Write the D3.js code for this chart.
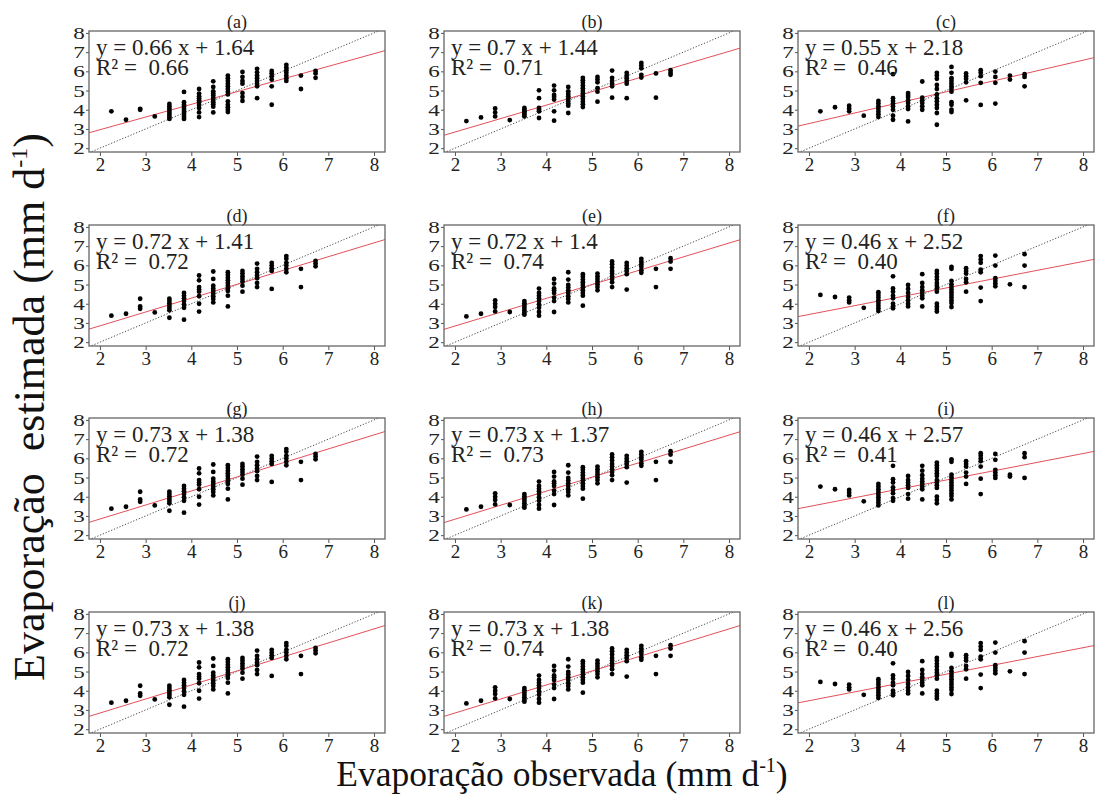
<!DOCTYPE html>
<html>
<head>
<meta charset="utf-8">
<script src="https://cdn.jsdelivr.net/npm/d3@7"></script>
<style>
  body { margin: 0; background: #fff; }
  svg text { font-family: "Liberation Serif", "Times New Roman", Times, "DejaVu Serif", serif; }
</style>
</head>
<body>
<div id="chart"></div>
<script>
// observed evaporation classes (x), shared by all panels
const obsX = [2.25, 2.57, 2.88, 3.2, 3.52, 3.84, 4.17, 4.48, 4.8, 5.12, 5.44, 5.76, 6.08, 6.4, 6.72];

// estimated values per observed class, one array per panel
const estA = [[3.92],[3.48],[4.05,4.0],[3.65],[4.3,4.18,4.06,3.95,3.83,3.72,3.62,3.52],
  [4.93,4.39,4.26,4.16,4.04,3.93,3.83,3.72,3.62,3.52],[5.08,4.84,4.7,4.6,4.49,4.39,4.25,4.09,3.86,3.62],
  [5.48,5.19,4.96,4.84,4.74,4.61,4.51,4.39,4.28,4.16,3.86],[5.78,5.64,5.5,5.36,5.22,5.08,4.94,4.8,4.44,4.26,4.13,4.0,3.88],
  [5.97,5.71,5.5,5.36,4.87,4.67,4.46],[6.13,5.95,5.78,5.64,5.5,5.36,5.22,4.6],[6.02,5.89,5.75,5.57,5.22,4.26],
  [6.34,6.2,6.06,5.92,5.78,5.64,5.5],[5.78,5.08],[6.02,5.89,5.66]];
const estB = [[3.41],[3.6],[4.07,3.86,3.65],[3.46],[4.09,4.0,3.92,3.83,3.74,3.65],[5.01,4.6,4.09,4.0,3.92,3.57],
  [5.26,5.01,4.77,4.67,4.53,3.92,3.43],[5.19,4.96,4.82,4.7,4.58,4.46,4.33,4.21,3.83],
  [5.66,5.54,5.4,5.26,5.12,4.98,4.84,4.7,4.56,4.42,4.28,4.14],[5.71,5.57,5.43,5.12,4.94,4.42],
  [6.04,5.66,5.5,5.36,5.22,4.63],[5.92,5.78,5.64,5.5,5.36,4.6],[6.44,6.3,6.16,5.82,5.68],[5.89,4.63],[6.06,5.92,5.82]];
const estC = [[3.92],[4.13],[4.21,4.07,3.92],[3.69],[4.46,4.32,4.18,4.04,3.9,3.76,3.62],
  [5.85,4.6,4.46,4.32,4.18,4.0,3.69,3.48],[4.87,4.77,4.67,4.49,4.35,4.18,4.04,3.39],[5.47,4.63,4.49,4.35,4.18,4.0],
  [5.92,5.78,5.61,5.29,5.08,4.8,4.6,4.44,4.26,4.09,3.83,3.22],[6.23,5.92,5.64,5.5,5.36,5.22,5.08,4.94,4.39,4.26,4.0,3.88],
  [5.89,5.75,5.61,5.43,4.49],[6.06,5.92,5.75,5.4,4.25],[5.99,5.71,5.4,4.32],[5.78,5.57],[5.85,5.71,5.22]];
const estD = [[3.38],[3.48],[4.26,3.86,3.74],[3.55],[4.26,4.14,4.02,3.9,3.78,3.66,3.27],[4.56,4.42,4.28,4.14,3.97,3.79,3.17],
  [5.47,5.22,4.87,4.74,4.63,4.39,4.0,3.59],[5.68,5.29,4.94,4.8,4.67,4.53,4.39,4.25,4.07],
  [5.64,5.5,5.36,5.22,5.08,4.94,4.8,4.67,4.42,3.86],[5.71,5.57,5.43,5.29,5.15,4.94,4.63],
  [6.09,5.82,5.64,5.47,5.33,5.08,4.87],[6.13,5.99,5.85,5.71,4.77],[6.48,6.34,6.13,5.99,5.82,5.64],[5.82,4.87],[6.23,6.09,5.95]];
const estE = [[3.34],[3.48],[4.18,4.0,3.83,3.6],[3.57],[4.14,4.02,3.9,3.78,3.66,3.53,3.43],
  [4.79,4.56,4.42,4.28,4.14,3.97,3.79,3.57,3.38],[5.29,5.05,4.8,4.7,4.56,4.32,4.14,3.57],
  [5.64,5.26,4.98,4.84,4.7,4.56,4.39,4.25,4.07],[5.54,5.4,5.26,5.12,4.98,4.84,4.7,4.56,4.42,3.9],
  [5.57,5.43,5.29,5.15,5.01,4.87,4.7],[6.2,6.06,5.89,5.71,5.57,5.43,5.29,5.12,4.87],[6.13,5.99,5.85,5.71,5.54,4.74],
  [6.34,6.2,6.06,5.92,5.75,5.61],[5.82,4.87],[6.37,6.2,5.82]];
const estF = [[4.46],[4.35],[4.32,4.18,4.07],[3.79],[4.6,4.46,4.32,4.18,4.04,3.9,3.76,3.62],
  [5.43,4.8,4.63,4.42,4.28,4.0,3.86,3.76],[4.98,4.77,4.56,4.35,4.18,4.0,3.86],[5.54,5.08,4.87,4.7,4.56,4.42,4.28,3.86],
  [5.71,5.57,5.4,5.26,5.08,4.94,4.8,4.63,4.0,3.86,3.72,3.59],[5.92,5.82,5.19,5.01,4.87,4.74,4.6,4.46,4.32,4.18,4.04,3.83],
  [5.85,5.71,5.57,5.29,5.12,4.63],[6.48,6.3,6.13,5.78,5.64,4.84,4.14],[6.51,5.99,5.33,5.19,5.05,4.91],[5.01],[6.58,5.99,4.87]];
const estG = estD;
const estH = estE;
const estI = [[4.53],[4.39],[4.35,4.21,4.07],[3.76],[4.67,4.53,4.39,4.25,4.11,3.97,3.83,3.69,3.55],
  [5.61,4.91,4.74,4.49,4.35,4.18,3.93,3.79],[5.08,4.87,4.74,4.6,4.46,4.14,3.9],[5.61,5.36,5.12,4.94,4.8,4.67,4.53,4.39,3.86],
  [5.78,5.64,5.5,5.36,5.22,5.08,4.87,4.74,4.6,4.46,4.0,3.83,3.66],[5.95,5.82,5.15,5.01,4.87,4.74,4.6,4.46,4.32,4.18,4.04,3.86],
  [5.85,5.71,5.57,5.26,5.05,4.67],[6.27,6.13,5.99,5.85,5.57,4.94,4.14],[6.23,5.92,5.4,5.26,5.12,4.98],[5.15,5.05],[6.27,6.06,4.98]];
const estJ = estD;
const estK = estE;
const estL = estF;

const panelLabels = ["(a)","(b)","(c)","(d)","(e)","(f)","(g)","(h)","(i)","(j)","(k)","(l)"];
const slopes = [0.66, 0.7, 0.55, 0.72, 0.72, 0.46, 0.73, 0.73, 0.46, 0.73, 0.73, 0.46];
const intercepts = [1.64, 1.44, 2.18, 1.41, 1.4, 2.52, 1.38, 1.37, 2.57, 1.38, 1.38, 2.56];
const r2Values = [0.66, 0.71, 0.46, 0.72, 0.74, 0.40, 0.72, 0.73, 0.41, 0.72, 0.74, 0.40];
const tickValues = [2, 3, 4, 5, 6, 7, 8];

const estimates = [estA, estB, estC, estD, estE, estF, estG, estH, estI, estJ, estK, estL];

const serif = "'Liberation Serif', 'Times New Roman', Times, 'DejaVu Serif', serif";
const width = 1095, height = 801;
const colX = [89, 444, 798], rowY = [31, 225, 418, 612];
const pw = 296, ph = 121;

const svg = d3.select("#chart").append("svg")
  .attr("width", width).attr("height", height)
  .style("font-family", serif);

const x = d3.scaleLinear().domain([1.76, 8.24]).range([0, pw]);
const y = d3.scaleLinear().domain([1.8, 8.1]).range([ph, 0]);

svg.append("defs").append("clipPath").attr("id", "plotclip")
  .append("rect").attr("width", pw).attr("height", ph);

estimates.forEach((est, i) => {
  const g = svg.append("g")
    .attr("transform", `translate(${colX[i % 3]},${rowY[Math.floor(i / 3)]})`);

  const pts = [];
  est.forEach((col, j) => col.forEach(v => pts.push([obsX[j], v])));

  const inner = g.append("g").attr("clip-path", "url(#plotclip)");

  // 1:1 line
  inner.append("line")
    .attr("x1", x(1.76)).attr("y1", y(1.76))
    .attr("x2", x(8.24)).attr("y2", y(8.24))
    .attr("stroke", "#333").attr("stroke-width", 0.9)
    .attr("stroke-dasharray", "1.2,1.8");

  // fitted line
  inner.append("line")
    .attr("x1", x(1.76)).attr("y1", y(slopes[i] * 1.76 + intercepts[i]))
    .attr("x2", x(8.24)).attr("y2", y(slopes[i] * 8.24 + intercepts[i]))
    .attr("stroke", "#e4505a").attr("stroke-width", 1);

  inner.selectAll("circle")
    .data(pts)
    .enter()
    .append("circle")
    .attr("cx", d => x(d[0]))
    .attr("cy", d => y(d[1]))
    .attr("r", 2.4)
    .attr("fill", "#000");

  // axes
  const xa = g.append("g").attr("transform", `translate(0,${ph})`)
    .call(d3.axisBottom(x).tickValues(tickValues).tickSize(4).tickPadding(2).tickFormat(d3.format("d")));
  const ya = g.append("g")
    .call(d3.axisLeft(y).tickValues(tickValues).tickSize(3).tickPadding(0).tickFormat(d3.format("d")));
  [xa, ya].forEach(a => {
    a.attr("font-family", serif);
    a.select(".domain").remove();
    a.selectAll("line").attr("stroke", "#555");
    a.selectAll("text").attr("fill", "#222");
  });
  xa.attr("font-size", 19);
  ya.attr("font-size", 16.5);
  // y labels in the source are drawn noticeably wider than tall
  ya.selectAll("text").attr("dy", "0.34em").attr("transform", "scale(1.4,1)");

  g.append("rect")
    .attr("width", pw).attr("height", ph)
    .attr("fill", "none").attr("stroke", "#666").attr("stroke-width", 1.3);

  g.append("text")
    .attr("x", pw / 2).attr("y", -3)
    .attr("text-anchor", "middle")
    .attr("font-size", 18).attr("fill", "#222")
    .text(panelLabels[i]);

  g.append("text")
    .attr("x", 7).attr("y", 24)
    .attr("font-size", 23).attr("fill", "#222")
    .text(`y = ${slopes[i]} x + ${intercepts[i]}`);

  g.append("text")
    .attr("x", 7).attr("y", 44)
    .attr("font-size", 23).attr("fill", "#222")
    .attr("xml:space", "preserve")
    .text(`R² =  ${d3.format(".2f")(r2Values[i])}`);
});

// axis titles
const xt = svg.append("text")
  .attr("x", 562).attr("y", 786)
  .attr("text-anchor", "middle")
  .attr("font-size", 35.5).attr("fill", "#111")
  .text("Evaporação observada (mm d");
xt.append("tspan").attr("dy", -14).attr("font-size", 20).text("-1");
xt.append("tspan").attr("dy", 14).text(")");

const yt = svg.append("text")
  .attr("transform", "translate(44,407) rotate(-90)")
  .attr("text-anchor", "middle")
  .attr("xml:space", "preserve")
  .attr("font-size", 44).attr("fill", "#111")
  .text("Evaporação  estimada (mm d");
yt.append("tspan").attr("dy", -17).attr("font-size", 24).text("-1");
yt.append("tspan").attr("dy", 17).text(")");
</script>
</body>
</html>
